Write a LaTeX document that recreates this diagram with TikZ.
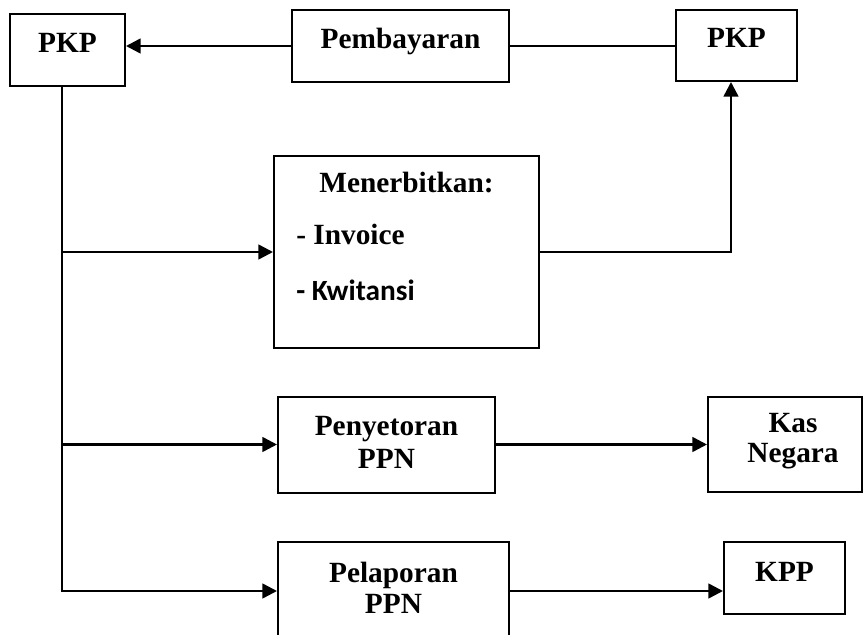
\documentclass[tikz,border=0pt]{standalone}
\usepackage{fontspec}
\setmainfont{Liberation Serif}
\newfontfamily\calfont{Carlito}
\usetikzlibrary{arrows.meta}
\tikzset{
  box/.style={draw=black, line width=1.5pt, fill=white, inner sep=0pt},
  txt/.style={anchor=base, inner sep=0pt, font=\fontsize{22}{26}\selectfont\bfseries},
  ltxt/.style={anchor=base west, inner sep=0pt, font=\fontsize{22}{26}\selectfont\bfseries},
  arr/.style={line width=1.9pt, -{Triangle[length=11pt,width=11pt]}},
  thin/.style={line width=1.3pt}
}
\begin{document}
\begin{tikzpicture}[x=0.75pt,y=-0.75pt]
\useasboundingbox (0,0) rectangle (865,635);
\clip (0,0) rectangle (865,635);
\fill[white] (0,0) rectangle (865,635);
% boxes
\node[box, minimum width=115*0.75pt, minimum height=72*0.75pt] (pkpL) at (67.5,50) {};
\node[box, minimum width=217*0.75pt, minimum height=72*0.75pt] (pemb) at (400.5,46) {};
\node[box, minimum width=121*0.75pt, minimum height=70.5*0.75pt] (pkpR) at (736.5,45.75) {};
\node[box, minimum width=265*0.75pt, minimum height=192*0.75pt] (mener) at (406.5,252) {};
\node[box, minimum width=217*0.75pt, minimum height=96*0.75pt] (peny) at (386.5,444.5) {};
\node[box, minimum width=154*0.75pt, minimum height=95*0.75pt] (kas) at (785,444.5) {};
\node[box, minimum width=231*0.75pt, minimum height=98*0.75pt] (pel) at (393.5,591) {};
\node[box, minimum width=121*0.75pt, minimum height=72*0.75pt] (kpp) at (784.5,578) {};
% texts
\node[txt] (tpkpL) at (67.5,53) {PKP};
\node[txt] (tpemb) at (400.5,49) {Pembayaran};
\node[txt] (tpkpR) at (736.5,48) {PKP};
\node[txt] (tmen1) at (406.5,193) {Menerbitkan:};
\node[ltxt] (tmen2) at (296,244) {- Invoice};
\node[ltxt, font=\fontsize{22}{26}\selectfont\calfont\bfseries] (tmen3) at (296,300) {- Kwitansi};
\node[txt] (tpeny1) at (386.5,435) {Penyetoran};
\node[txt] (tpeny2) at (386.5,468) {PPN};
\node[txt] (tkas1) at (793,432) {Kas};
\node[txt] (tkas2) at (793,462) {Negara};
\node[txt] (tpel1) at (393.5,582) {Pelaporan};
\node[txt] (tpel2) at (393.5,613) {PPN};
\node[txt] (tkpp) at (784.5,581) {KPP};
% connectors
\coordinate (trunk) at (62,0);
\coordinate (up) at (731,0);
\draw[arr] (pemb.west) -- (pemb.west -| pkpL.east);
\draw[thin] (pemb.east) -- (pemb.east -| pkpR.west);
\draw[arr] (pkpL.south -| trunk) -- (trunk |- pel.west) -- (pel.west);
\draw[arr] (trunk |- mener.west) -- (mener.west);
\draw[arr] (trunk |- peny.west) -- (peny.west);
\draw[arr] (mener.east) -- (mener.east -| up) -- (up |- pkpR.south);
\draw[arr] (peny.east) -- (peny.east -| kas.west);
\draw[arr] (pel.east) -- (pel.east -| kpp.west);
\end{tikzpicture}
\end{document}
